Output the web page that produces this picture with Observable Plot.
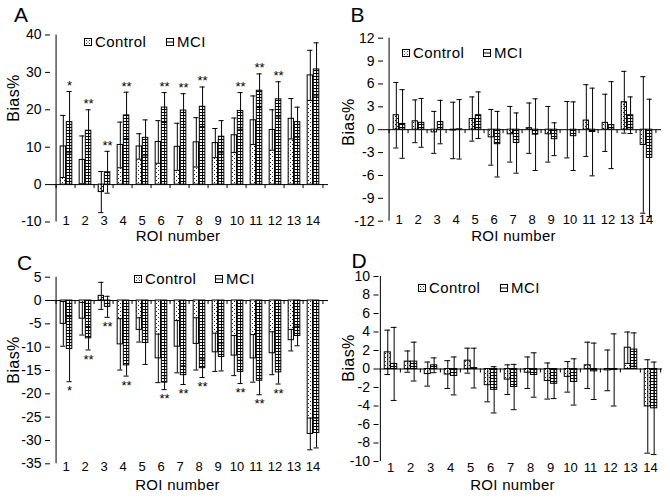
<!DOCTYPE html>
<html><head><meta charset="utf-8">
<script src="https://cdn.jsdelivr.net/npm/d3@7"></script>
<script src="https://cdn.jsdelivr.net/npm/@observablehq/plot@0.6"></script>
<style>
body{margin:0;background:#fff;}
#wrap{position:relative;width:670px;height:502px;overflow:hidden;font-family:"Liberation Sans",Arial,sans-serif;color:#000;background:#fff;}
.panel{position:absolute;width:335px;height:251px;}
.t{position:absolute;white-space:nowrap;line-height:0.78;}
.sw{position:absolute;}
</style></head><body>
<svg width="0" height="0" style="position:absolute">
<defs>
<pattern id="dots" patternUnits="userSpaceOnUse" width="4" height="4"><rect width="4" height="4" fill="#fff"/><rect x="0" y="0" width="1" height="1" fill="#222"/><rect x="2" y="2" width="1" height="1" fill="#222"/></pattern>
<pattern id="stripes" patternUnits="userSpaceOnUse" width="4" height="3"><rect width="4" height="3" fill="#fff"/><rect x="0" y="1" width="4" height="1" fill="#000"/></pattern>
</defs></svg>
<div id="wrap"></div>
<script>
// ---------- data ----------
const rois = [1,2,3,4,5,6,7,8,9,10,11,12,13,14];
const seriesNames = ["Control", "MCI"];
const panelLetters = ["A", "B", "C", "D"];
const yTitle = "Bias%";
const xTitle = "ROI number";

const aControlMean = [10.2, 6.6, -2.0, 10.6, 10.2, 11.4, 10.1, 11.3, 11.1, 13.2, 17.2, 14.6, 17.6, 29.2];
const aControlSd   = [8.3, 6.4, 5.5, 6.1, 3.4, 5.7, 6.3, 6.6, 3.9, 4.6, 6.5, 5.4, 5.4, 6.7];
const aMciMean     = [16.7, 14.4, 3.3, 18.5, 12.5, 20.6, 19.8, 20.8, 12.8, 19.7, 25.1, 22.8, 16.7, 30.8];
const aMciSd       = [8.2, 5.6, 5.6, 6.2, 4.8, 4.0, 4.5, 5.3, 4.3, 4.9, 4.5, 4.7, 4.0, 7.1];
const aSig         = ["*","**","**","**","","**","**","**","","**","**","**","",""];
const aTicks       = [-10, 0, 10, 20, 30, 40];

const bControlMean = [1.9, 1.1, -0.35, -0.1, 1.4, -1.0, -0.6, 0.2, -0.6, 0.0, 1.2, 0.9, 3.6, -2.0];
const bControlSd   = [4.3, 2.8, 2.75, 3.7, 2.9, 3.65, 3.65, 3.3, 3.65, 3.7, 4.7, 3.75, 4.05, 8.95];
const bMciMean     = [0.75, 0.9, 1.0, 0.05, 1.9, -1.9, -1.75, -0.65, -1.25, -0.85, -0.3, 0.6, 1.9, -3.7];
const bMciSd       = [4.5, 3.2, 2.85, 3.9, 3.05, 4.3, 3.95, 4.7, 2.15, 4.5, 5.75, 5.7, 2.4, 7.7];
const bTicks       = [-12, -9, -6, -3, 0, 3, 6, 9, 12];

const cControlMean = [-5.0, -3.9, 1.0, -9.4, -6.3, -12.4, -9.9, -9.3, -11.1, -11.8, -12.4, -11.3, -8.5, -28.6];
const cControlSd   = [4.8, 3.5, 2.9, 5.5, 2.6, 5.2, 5.6, 5.6, 4.1, 4.3, 5.1, 4.6, 2.3, 3.4];
const cMciMean     = [-10.4, -8.1, -1.35, -13.9, -9.1, -17.6, -16.0, -14.5, -12.1, -15.3, -17.2, -15.4, -7.6, -28.4];
const cMciSd       = [7.0, 2.5, 2.25, 2.3, 4.6, 1.5, 2.0, 2.0, 3.0, 2.5, 3.0, 2.5, 2.1, 3.2];
const cSig         = ["*","**","**","**","","**","**","**","","**","**","**","",""];
const cTicks       = [-35, -30, -25, -20, -15, -10, -5, 0, 5];

const dControlMean = [1.8, 0.8, -0.55, -0.6, 0.9, -1.75, -1.15, -0.4, -1.3, -0.85, 0.4, -0.15, 2.3, -4.05];
const dControlSd   = [2.4, 1.15, 1.3, 1.5, 1.35, 1.8, 1.6, 1.7, 1.95, 1.65, 2.5, 2.2, 1.7, 5.05];
const dMciMean     = [0.55, 0.8, 0.4, -0.75, 0.1, -2.25, -1.95, -0.65, -1.6, -1.4, -0.25, -0.1, 2.1, -4.25];
const dMciSd       = [3.95, 2.1, 0.8, 2.05, 2.15, 2.5, 2.45, 2.4, 1.6, 2.5, 3.05, 3.9, 1.8, 5.0];
const dTicks       = [-10, -8, -6, -4, -2, 0, 2, 4, 6, 8, 10];

// ---------- layout (positions / styles) ----------
const panels = [
  {letter: panelLetters[0], cm: aControlMean, cs: aControlSd, mm: aMciMean, ms: aMciSd, sig: aSig, sigSide: "top", ticks: aTicks,
   left: 0, top: 0, ml: 50, mr: 7, mt: 34.5, mb: 29.5, labDy: -1.5,
   letterPos: [21, 15], yTitlePos: [14, 98], xTitlePos: [178, 235.5],
   legend: {cy: 42, sw1: 84, sw2: 166}},
  {letter: panelLetters[1], cm: bControlMean, cs: bControlSd, mm: bMciMean, ms: bMciSd, sig: null, ticks: bTicks,
   left: 335, top: 0, ml: 48, mr: 9, mt: 37.7, mb: 30.3, labDy: -1.5,
   letterPos: [357.5, 15], yTitlePos: [349, 122], xTitlePos: [513.5, 236],
   legend: {cy: 52.5, sw1: 402, sw2: 483}},
  {letter: panelLetters[2], cm: cControlMean, cs: cControlSd, mm: cMciMean, ms: cMciSd, sig: cSig, sigSide: "bottom", ticks: cTicks,
   left: 0, top: 251, ml: 50, mr: 7, mt: 25.7, mb: 38.7, labDy: 3.5,
   letterPos: [24.5, 262.5], yTitlePos: [14, 359.5], xTitlePos: [177.5, 484.5],
   legend: {cy: 278.5, sw1: 134, sw2: 215}},
  {letter: panelLetters[3], cm: dControlMean, cs: dControlSd, mm: dMciMean, ms: dMciSd, sig: null, ticks: dTicks,
   left: 335, top: 251, ml: 43.5, mr: 8, mt: 25, mb: 41, labDy: 6,
   letterPos: [359, 261], yTitlePos: [349, 358], xTitlePos: [512.5, 485],
   legend: {cy: 288, sw1: 418, sw2: 500}}
];

const W = 335, H = 251;
const wrap = document.getElementById("wrap");

function addText(str, x, y, size, transform, ls) {
  const d = document.createElement("div");
  d.className = "t";
  d.textContent = str;
  d.style.left = x + "px";
  d.style.top = y + "px";
  d.style.fontSize = size + "px";
  d.style.transform = transform || "translate(-50%,-50%)";
  if (ls) d.style.letterSpacing = ls + "px";
  wrap.appendChild(d);
}

function addSwatch(kind, x, cy) {
  const ns = "http://www.w3.org/2000/svg";
  const s = document.createElementNS(ns, "svg");
  s.setAttribute("width", 8); s.setAttribute("height", 8);
  s.setAttribute("class", "sw");
  s.style.left = x + "px"; s.style.top = (cy - 4) + "px";
  if (kind === 0) {
    s.innerHTML = '<rect x="0.5" y="0.5" width="7" height="7" fill="#fff" stroke="#000"/>' +
      '<rect x="2" y="2" width="1" height="1" fill="#444"/><rect x="5" y="2" width="1" height="1" fill="#444"/>' +
      '<rect x="3.5" y="3.5" width="1" height="1" fill="#444"/><rect x="2" y="5" width="1" height="1" fill="#444"/><rect x="5" y="5" width="1" height="1" fill="#444"/>';
  } else {
    s.innerHTML = '<rect x="0.5" y="0.5" width="7" height="7" fill="#fff" stroke="#000"/><line x1="0.5" x2="7.5" y1="4" y2="4" stroke="#000"/>';
  }
  wrap.appendChild(s);
}

function makePanel(p) {
  const bw = (W - p.ml - p.mr) / rois.length;
  const ih = H - p.mt - p.mb;
  const y0 = p.ticks[0], y1 = p.ticks[p.ticks.length - 1];
  const tickLen = 4 * (y1 - y0) / ih;
  const rows = rois.map((r, i) => ({roi: r, cm: p.cm[i], cs: p.cs[i], mm: p.mm[i], ms: p.ms[i], sig: p.sig ? p.sig[i] : ""}));
  const fC = [0.21, 0.52], fM = [0.52, 0.84];
  const cC = (fC[0] + fC[1]) / 2, cM = (fM[0] + fM[1]) / 2;
  const capHalf = 3;
  const inner = d => {
    const lo = d.cm - d.cs, hi = d.cm + d.cs;
    if (d.cm > 0 && lo > 0) return lo;
    if (d.cm < 0 && hi < 0) return hi;
    return d.cm;
  };
  const cIns = {insetLeft: fC[0] * bw, insetRight: (1 - fC[1]) * bw};
  const mIns = {insetLeft: fM[0] * bw, insetRight: (1 - fM[1]) * bw};
  const capC = {insetLeft: cC * bw - capHalf, insetRight: bw - cC * bw - capHalf};
  const capM = {insetLeft: cM * bw - capHalf, insetRight: bw - cM * bw - capHalf};
  const marks = [
    Plot.ruleY([0], {stroke: "#000"}),
    Plot.ruleX(rois, {x: d => d, dx: -bw / 2, y1: 0, y2: -tickLen, stroke: "#000"}),
    Plot.ruleX([rois[rois.length - 1]], {x: d => d, dx: bw / 2, y1: 0, y2: -tickLen, stroke: "#000"}),
    Plot.ruleX([rois[0]], {x: d => d, dx: -bw / 2, y1: y0, y2: y1, stroke: "#000"}),
    Plot.axisY({ticks: p.ticks, tickSize: 5, tickPadding: 4, tickFormat: d => String(d), label: null, fontSize: 14, stroke: "#000", fill: "#000"}),
    Plot.text(rois, {x: d => d, text: d => String(d), frameAnchor: "bottom", lineAnchor: "middle", dy: p.labDy, fontSize: 13, fill: "#000"}),
    // control bars
    Plot.barY(rows, {x: "roi", y1: 0, y2: "cm", fill: "#fff", ...cIns}),
    Plot.barY(rows, {x: "roi", y1: 0, y2: inner, fill: "url(#dots)", ...cIns}),
    Plot.barY(rows, {x: "roi", y1: 0, y2: "cm", fill: "none", stroke: "#000", ...cIns}),
    Plot.ruleX(rows, {x: "roi", dx: (cC - 0.5) * bw, y1: d => d.cm - d.cs, y2: d => d.cm + d.cs, stroke: "#000"}),
    Plot.tickY(rows, {x: "roi", y: d => d.cm + d.cs, stroke: "#000", ...capC}),
    Plot.tickY(rows, {x: "roi", y: d => d.cm - d.cs, stroke: "#000", ...capC}),
    // MCI bars
    Plot.barY(rows, {x: "roi", y1: 0, y2: "mm", fill: "url(#stripes)", stroke: "#000", ...mIns}),
    Plot.ruleX(rows, {x: "roi", dx: (cM - 0.5) * bw, y1: 0, y2: "mm", stroke: "#000"}),
    Plot.ruleX(rows, {x: "roi", dx: (cM - 0.5) * bw, y1: d => d.mm - d.ms, y2: d => d.mm + d.ms, stroke: "#000"}),
    Plot.tickY(rows, {x: "roi", y: d => d.mm + d.ms, stroke: "#000", ...capM}),
    Plot.tickY(rows, {x: "roi", y: d => d.mm - d.ms, stroke: "#000", ...capM})
  ];
  if (p.sig) {
    const sigRows = rows.filter(d => d.sig);
    if (p.sigSide === "top") {
      marks.push(Plot.text(sigRows, {x: "roi", y: d => d.mm + d.ms, text: "sig", dx: (cM - 0.5) * bw, lineAnchor: "bottom", dy: -1.5, fontSize: 13, fill: "#000"}));
    } else {
      marks.push(Plot.text(sigRows, {x: "roi", y: d => d.mm - d.ms, text: "sig", dx: (cM - 0.5) * bw, lineAnchor: "top", dy: 4.5, fontSize: 13, fill: "#000"}));
    }
  }
  const svg = Plot.plot({
    width: W, height: H,
    marginLeft: p.ml, marginRight: p.mr, marginTop: p.mt, marginBottom: p.mb,
    x: {type: "band", domain: rois, padding: 0, axis: null},
    y: {domain: [y0, y1], axis: null},
    style: {fontFamily: '"Liberation Sans", Arial, sans-serif', fontSize: "13px", background: "none", color: "#000", overflow: "visible"},
    marks
  });
  const holder = document.createElement("div");
  holder.className = "panel";
  holder.style.left = p.left + "px";
  holder.style.top = p.top + "px";
  holder.appendChild(svg);
  wrap.appendChild(holder);

  addText(p.letter, p.letterPos[0], p.letterPos[1], 21);
  addText(yTitle, p.yTitlePos[0], p.yTitlePos[1], 16, "translate(-50%,-50%) rotate(-90deg)", 0.4);
  addText(xTitle, p.xTitlePos[0], p.xTitlePos[1], 15, null, 0.3);
  const lg = p.legend;
  addSwatch(0, lg.sw1, lg.cy);
  addText(seriesNames[0], lg.sw1 + 11, lg.cy, 15, "translate(0,-50%)", 0.4);
  addSwatch(1, lg.sw2, lg.cy);
  addText(seriesNames[1], lg.sw2 + 11, lg.cy, 15, "translate(0,-50%)", 0.4);
}

panels.forEach(makePanel);
</script>
</body></html>
